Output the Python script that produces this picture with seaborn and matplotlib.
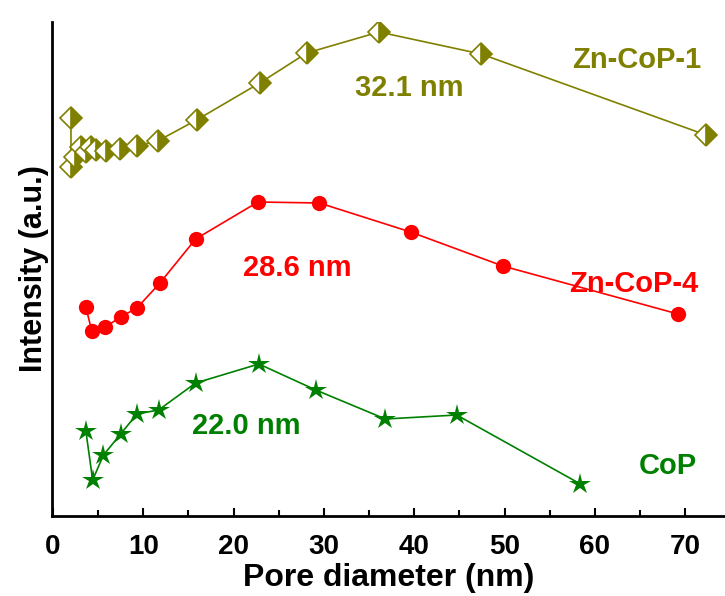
import pandas as pd
import matplotlib.pyplot as plt
import seaborn as sns

# pore diameter (nm) and relative intensity (a.u., offset curves)
zn1_x = [2.0, 2.0, 2.5, 3.1, 3.7, 4.2, 4.8, 5.9, 7.4, 9.3, 11.6, 15.9, 22.9, 28.1, 36.1, 47.4, 72.3]
zn1_y = [398, 349, 359, 369, 364, 369, 366, 365, 367, 370, 375, 396, 433, 463, 484, 462, 381]

zn4_x = [3.65, 4.3, 5.8, 7.5, 9.3, 11.85, 15.8, 22.7, 29.5, 39.6, 49.8, 69.2]
zn4_y = [209, 185, 189, 199, 208, 233, 277, 314, 313, 284, 250, 202]

cop_x = [3.65, 4.4, 5.6, 7.5, 9.3, 11.7, 15.8, 22.8, 29.1, 36.8, 44.7, 58.4]
cop_y = [85, 36, 61, 82, 102, 106, 133, 152, 126, 97, 101, 32]

olive = "#808000"
red = "#ff0000"
green = "#008000"

sns.set_style("ticks", {"axes.edgecolor": "black", "text.color": "black",
                        "axes.labelcolor": "black", "xtick.color": "black"})
plt.rcParams["font.family"] = ["Liberation Sans", "DejaVu Sans"]
plt.rcParams["font.weight"] = "bold"

fig = plt.figure(figsize=(7.25, 5.96), dpi=100)
ax = fig.add_axes([52 / 725, 80 / 596, 1 - 52 / 725, (516 - 22) / 596])

sns.lineplot(x=zn1_x, y=zn1_y, sort=False, estimator=None, ax=ax, color=olive,
             marker="D", markersize=11, fillstyle="right", markerfacecoloralt="white",
             markeredgecolor=olive, markeredgewidth=1.2, linewidth=1.2)
sns.lineplot(x=zn4_x, y=zn4_y, sort=False, estimator=None, ax=ax, color=red,
             marker="o", markersize=11, markeredgewidth=0, linewidth=1.2)
sns.lineplot(x=cop_x, y=cop_y, sort=False, estimator=None, ax=ax, color=green,
             marker="*", markersize=16, markeredgewidth=0, linewidth=1.2)

txt = dict(fontsize=21, fontweight="bold", ha="center", va="center")
ax.text(39.5, 428, "32.1 nm", color=olive, **txt)
ax.text(64.6, 456, "Zn-CoP-1", color=olive, **txt)
ax.text(27.0, 248, "28.6 nm", color=red, **txt)
ax.text(64.3, 232, "Zn-CoP-4", color=red, **txt)
ax.text(21.4, 90, "22.0 nm", color=green, **txt)
ax.text(68.1, 50, "CoP", color=green, **txt)

ax.set_xlim(-0.1, 74.4)
ax.set_ylim(0, 494)
ax.set_xticks(range(0, 71, 10))
ax.set_xticks(range(5, 71, 10), minor=True)
ax.set_yticks([])
ax.tick_params(axis="x", which="major", length=6, width=1.5, labelsize=20,
               direction="in", pad=13, colors="black")
ax.tick_params(axis="x", which="minor", length=4, width=1.5, direction="in", colors="black")
for lab in ax.get_xticklabels():
    lab.set_fontweight("bold")
sns.despine(ax=ax, top=True, right=True)
for s in ["left", "bottom"]:
    ax.spines[s].set_linewidth(2)
    ax.spines[s].set_color("black")

ax.set_xlabel("Pore diameter (nm)", fontsize=23, fontweight="bold", labelpad=2, color="black")
ax.set_ylabel("Intensity (a.u.)", fontsize=22, fontweight="bold", labelpad=2, color="black")

plt.savefig("out.png", dpi=100)
